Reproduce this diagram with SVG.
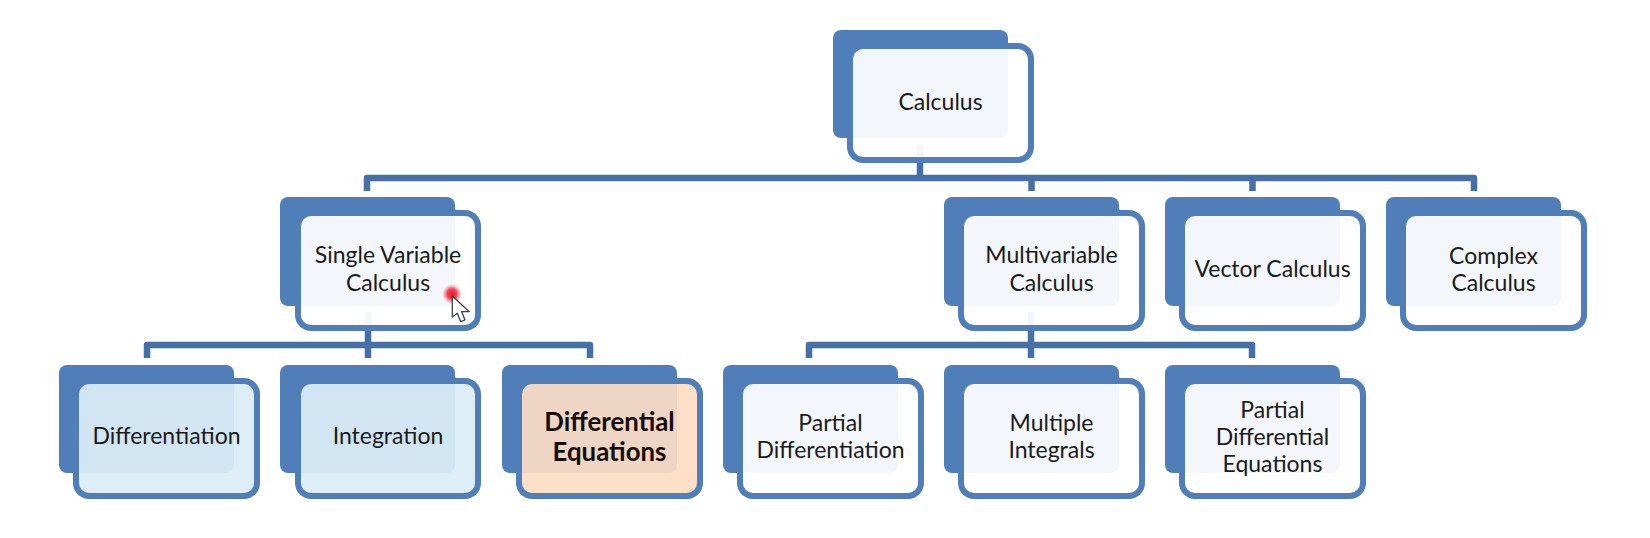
<svg xmlns="http://www.w3.org/2000/svg" width="1650" height="538" viewBox="0 0 1650 538">
<style>
.back{fill:#4f7eb9}
.front{stroke:#4f7eb9;stroke-width:6;fill:#ffffff;fill-opacity:.935}
.blue .front{fill:#dcedf6}
.hot .front{fill:#fddcc3;fill-opacity:.92}
text{font-family:"Lato","Liberation Sans",sans-serif;font-size:23px;fill:#1a1a1a;text-anchor:middle}
.hot text{font-weight:700;font-size:25.800px;fill:#140c08}
.conn{fill:none;stroke:#466fa5;stroke-width:6.500;stroke-linejoin:round}
</style>
<defs>
<radialGradient id="glow"><stop offset="0" stop-color="#f01028"/><stop offset=".5" stop-color="#f0283c" stop-opacity=".85"/><stop offset="1" stop-color="#f87088" stop-opacity="0"/></radialGradient>
</defs>
<rect width="1650" height="538" fill="#ffffff"/>
<g id="connectors">
<path class="conn" d="M920 145V178M367 191V178H1474V191M1031.500 178V191M1252.500 178V191"/>
<path class="conn" d="M368 312V345M147 358V345H590V358M368 345V358"/>
<path class="conn" d="M1031 312V345M809 358V345H1252V358M1031 345V358"/>
</g>
<g id="calculus"><rect class="back" x="833" y="30" width="175" height="108" rx="8"/><rect class="front" x="850" y="46" width="181" height="114" rx="13"/><text x="940.500" y="110">Calculus</text></g>
<g id="single-variable"><rect class="back" x="280" y="197" width="175" height="109" rx="8"/><rect class="front" x="298" y="213" width="180" height="115" rx="13"/><text x="388" y="263">Single Variable</text><text x="388" y="291">Calculus</text></g>
<g id="multivariable"><rect class="back" x="944" y="197" width="175" height="109" rx="8"/><rect class="front" x="961" y="213" width="181" height="115" rx="13"/><text x="1051.500" y="263">Multivariable</text><text x="1051.500" y="291">Calculus</text></g>
<g id="vector"><rect class="back" x="1165" y="197" width="175" height="109" rx="8"/><rect class="front" x="1182" y="213" width="181" height="115" rx="13"/><text x="1272.500" y="277">Vector Calculus</text></g>
<g id="complex"><rect class="back" x="1386" y="197" width="175" height="109" rx="8"/><rect class="front" x="1403" y="213" width="181" height="115" rx="13"/><text x="1493.500" y="264">Complex</text><text x="1493.500" y="291">Calculus</text></g>
<g id="differentiation" class="blue"><rect class="back" x="59" y="365" width="175" height="108" rx="8"/><rect class="front" x="76" y="381" width="181" height="115" rx="13"/><text x="166.500" y="444">Differentiation</text></g>
<g id="integration" class="blue"><rect class="back" x="280" y="365" width="175" height="108" rx="8"/><rect class="front" x="298" y="381" width="180" height="115" rx="13"/><text x="388" y="444">Integration</text></g>
<g id="differential-equations" class="hot"><rect class="back" x="502" y="365" width="175" height="108" rx="8"/><rect class="front" x="519" y="381" width="181" height="115" rx="13"/><text x="609.500" y="431">Differential</text><text x="609.500" y="461">Equations</text></g>
<g id="partial-differentiation"><rect class="back" x="723" y="365" width="175" height="108" rx="8"/><rect class="front" x="740" y="381" width="181" height="115" rx="13"/><text x="830.500" y="431">Partial</text><text x="830.500" y="458">Differentiation</text></g>
<g id="multiple-integrals"><rect class="back" x="944" y="365" width="175" height="108" rx="8"/><rect class="front" x="961" y="381" width="181" height="115" rx="13"/><text x="1051.500" y="431">Multiple</text><text x="1051.500" y="458">Integrals</text></g>
<g id="partial-differential-equations"><rect class="back" x="1165" y="365" width="175" height="108" rx="8"/><rect class="front" x="1182" y="381" width="181" height="115" rx="13"/><text x="1272.500" y="418">Partial</text><text x="1272.500" y="445">Differential</text><text x="1272.500" y="472">Equations</text></g>
<g id="cursor"><circle cx="452" cy="294" r="10" fill="url(#glow)"/><path d="M452.300 296V317L457.300 313.300L460.700 321.700L465 320L461.700 311.700L469.300 311.700Z" fill="#ffffff" stroke="#3a3f46" stroke-width="1.300" stroke-linejoin="round"/></g>
</svg>
